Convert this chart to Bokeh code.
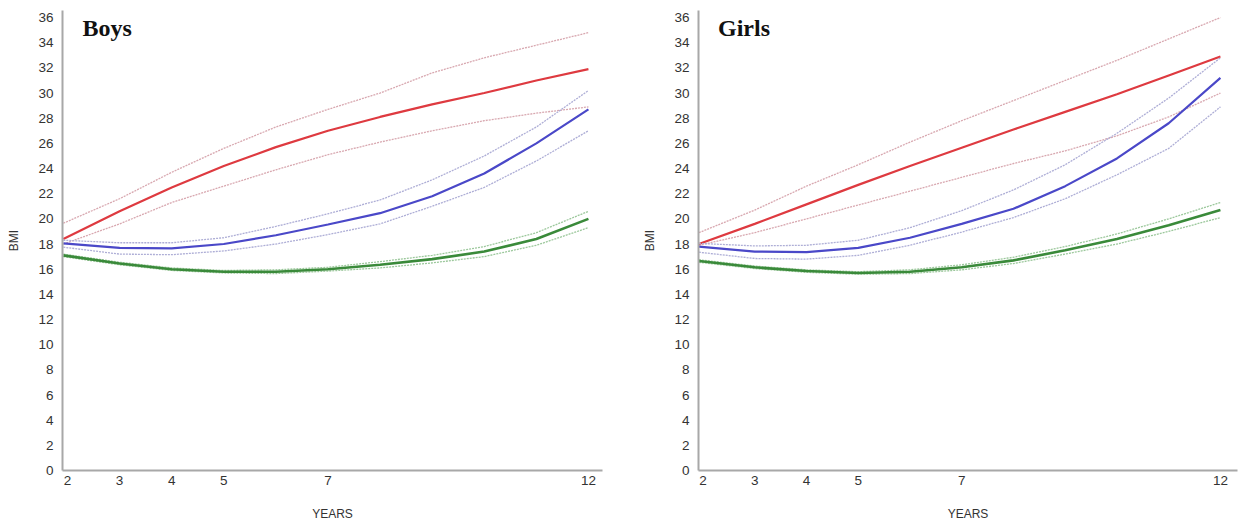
from bokeh.plotting import figure
from bokeh.layouts import row
from bokeh.models import FixedTicker, Label, Range1d
from bokeh.embed import file_html
from bokeh.resources import INLINE

# ---------------- data ----------------
ages = [1.92, 3, 4, 5, 6, 7, 8, 9, 10, 11, 12]
x_ticks = [2, 3, 4, 5, 7, 12]
y_ticks = list(range(0, 37, 2))

# Boys
boys_red = [18.4, 20.6, 22.5, 24.2, 25.7, 27.0, 28.1, 29.1, 30.0, 31.0, 31.9]
boys_red_hi = [19.65, 21.6, 23.7, 25.6, 27.3, 28.7, 30.0, 31.6, 32.8, 33.8, 34.8]
boys_red_lo = [18.0, 19.6, 21.3, 22.6, 23.9, 25.1, 26.1, 27.0, 27.8, 28.4, 28.9]
boys_blue = [18.05, 17.7, 17.65, 18.0, 18.7, 19.55, 20.45, 21.8, 23.6, 26.0, 28.7]
boys_blue_hi = [18.3, 18.1, 18.1, 18.5, 19.4, 20.4, 21.5, 23.1, 25.0, 27.3, 30.2]
boys_blue_lo = [17.75, 17.2, 17.15, 17.45, 18.0, 18.75, 19.6, 21.0, 22.5, 24.6, 27.0]
boys_green = [17.1, 16.45, 16.0, 15.8, 15.8, 16.0, 16.35, 16.8, 17.4, 18.4, 20.0]
boys_green_hi = [17.2, 16.55, 16.1, 15.9, 15.95, 16.15, 16.6, 17.1, 17.8, 18.9, 20.6]
boys_green_lo = [17.0, 16.35, 15.9, 15.7, 15.65, 15.85, 16.1, 16.5, 17.0, 17.9, 19.3]

# Girls
girls_red = [18.0, 19.6, 21.15, 22.7, 24.2, 25.65, 27.1, 28.5, 29.9, 31.4, 32.9]
girls_red_hi = [18.9, 20.7, 22.6, 24.3, 26.1, 27.8, 29.4, 31.0, 32.6, 34.3, 36.0]
girls_red_lo = [17.9, 18.9, 20.0, 21.1, 22.2, 23.3, 24.4, 25.4, 26.6, 28.1, 30.0]
girls_blue = [17.8, 17.4, 17.35, 17.7, 18.5, 19.6, 20.8, 22.6, 24.8, 27.6, 31.2]
girls_blue_hi = [18.05, 17.85, 17.9, 18.3, 19.3, 20.65, 22.3, 24.3, 26.8, 29.6, 32.8]
girls_blue_lo = [17.35, 16.85, 16.8, 17.1, 17.9, 18.95, 20.1, 21.6, 23.5, 25.6, 28.9]
girls_green = [16.65, 16.15, 15.85, 15.7, 15.8, 16.15, 16.7, 17.5, 18.4, 19.5, 20.7]
girls_green_hi = [16.75, 16.25, 15.95, 15.8, 15.95, 16.35, 16.95, 17.8, 18.8, 20.0, 21.3]
girls_green_lo = [16.55, 16.05, 15.75, 15.6, 15.65, 15.95, 16.45, 17.2, 18.0, 19.0, 20.1]

RED, BLUE, GREEN = "#de3a40", "#4a48c8", "#3a8a3a"
RED_B, BLUE_B, GREEN_B = "#d8a8b0", "#aeaed6", "#9cc89c"


def make_panel(title, series, width, border_left, border_right, x_start, x_end):
    p = figure(width=width, height=527, output_backend="svg", toolbar_location=None,
               x_range=Range1d(x_start, x_end), y_range=Range1d(0, 36.56),
               min_border_left=border_left, min_border_right=border_right,
               min_border_top=10, min_border_bottom=57)
    p.outline_line_color = None
    p.grid.visible = False
    p.background_fill_color = "white"
    p.border_fill_color = "white"

    for (main, hi, lo, c, cb, w) in series:
        p.line(ages, hi, line_color=cb, line_width=1.3, line_dash="2 1")
        p.line(ages, lo, line_color=cb, line_width=1.3, line_dash="2 1")
        p.line(ages, main, line_color=c, line_width=w)

    p.xaxis.ticker = FixedTicker(ticks=x_ticks)
    p.yaxis.ticker = FixedTicker(ticks=y_ticks)
    for ax in (p.xaxis, p.yaxis):
        ax.axis_line_color = "#a8a8a8"
        ax.axis_line_width = 2
        ax.major_tick_line_color = None
        ax.minor_tick_line_color = None
        ax.major_tick_out = 0
        ax.major_label_text_font = "Liberation Sans"
        ax.major_label_text_font_size = "13.5px"
        ax.major_label_text_color = "#333333"
        ax.axis_label_text_font = "Liberation Sans"
        ax.axis_label_text_font_size = "12px"
        ax.axis_label_text_font_style = "normal"
        ax.axis_label_text_color = "#333333"
    p.xaxis.axis_label = "YEARS"
    p.yaxis.axis_label = "BMI"
    p.xaxis.major_label_standoff = 5
    p.yaxis.major_label_standoff = 9
    p.xaxis.axis_label_standoff = 19
    p.yaxis.axis_label_standoff = 14

    p.add_layout(Label(x=2.29, y=35.2, text=title, text_font="Liberation Serif",
                       text_font_style="bold", text_font_size="24px",
                       text_color="#111111", text_baseline="middle"))
    return p


boys = make_panel("Boys", [
    (boys_red, boys_red_hi, boys_red_lo, RED, RED_B, 2.2),
    (boys_blue, boys_blue_hi, boys_blue_lo, BLUE, BLUE_B, 2.2),
    (boys_green, boys_green_hi, boys_green_lo, GREEN, GREEN_B, 2.6),
], width=628, border_left=62, border_right=26, x_start=1.904, x_end=12.27)

girls = make_panel("Girls", [
    (girls_red, girls_red_hi, girls_red_lo, RED, RED_B, 2.2),
    (girls_blue, girls_blue_hi, girls_blue_lo, BLUE, BLUE_B, 2.2),
    (girls_green, girls_green_hi, girls_green_lo, GREEN, GREEN_B, 2.6),
], width=614, border_left=70, border_right=5, x_start=1.913, x_end=12.33)

layout = row(boys, girls, spacing=0)
open("out.html", "w").write(file_html(layout, INLINE))
